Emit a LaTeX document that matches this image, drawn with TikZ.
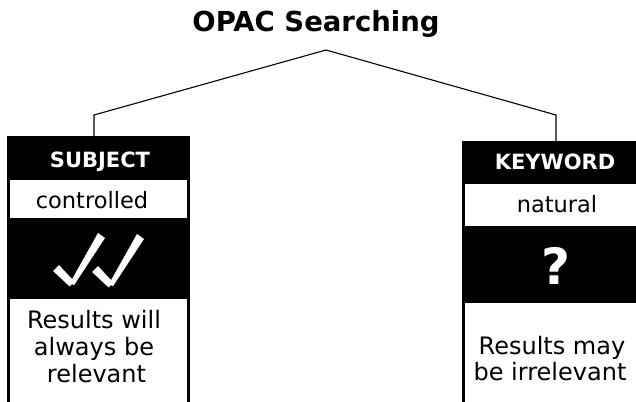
\documentclass[tikz,border=0pt]{standalone}
\usepackage{fontspec}
\setmainfont{DejaVu Sans}
\begin{document}
\begin{tikzpicture}[x=1pt,y=-1pt,
  panel/.style={rectangle, fill=black, draw=none, inner sep=0pt, outer sep=0pt, anchor=north west},
  blank/.style={rectangle, fill=white, draw=none, inner sep=0pt, outer sep=0pt, anchor=north west},
  head/.style={text=white, font=\fontsize{21}{24}\bfseries\selectfont, anchor=base, inner sep=0pt},
  word/.style={text=black, font=\fontsize{22.5}{24}\selectfont, anchor=base, inner sep=0pt},
  note/.style={text=black, font=\fontsize{24}{26}\selectfont, anchor=base, inner sep=0pt},
  link/.style={draw=black, line width=1.1pt, line join=miter},
  tick/.style={fill=white, draw=none}
]
\useasboundingbox (0,0) rectangle (636,401);
\clip (0,0) rectangle (636,401);

% title
\node[anchor=base, inner sep=0pt, font=\fontsize{27.5}{30}\bfseries\selectfont] (title) at (316,32) {OPAC Searching};

% left column: SUBJECT
\node[panel, minimum width=183pt, minimum height=280pt] (subj) at (7,136) {};
\node[blank, minimum width=177pt, minimum height=38pt] (subjrow) at (10,180) {};
\node[blank, minimum width=177pt, minimum height=110pt] (subjres) at (10,299) {};
\node[head] (subjlbl) at (100,167) {SUBJECT};
\node[word] (subjword) at (92,208) {controlled};
\node[note] (subjl1) at (94,328) {Results will};
\node[note] (subjl2) at (94,355) {always be};
\node[note] (subjl3) at (96.5,382) {relevant};

% two brush ticks: a short thick stroke and a long stroke widening upward
\foreach \vx/\vy in {72/284, 111/285} {
  \begin{scope}[shift={(\vx,\vy)}]
    \fill[tick] (-13,-19) -- (2.4,-2.4) -- (-2.4,2.4) -- (-19,-13) -- cycle;
    \fill[tick] (-2,-1.2) -- (2,1.2) -- (33,-46) -- (26,-51) -- cycle;
  \end{scope}
}

% right column: KEYWORD
\node[panel, minimum width=190pt, minimum height=275pt] (kw) at (462,141) {};
\node[blank, minimum width=184pt, minimum height=42pt] (kwrow) at (465,184) {};
\node[blank, minimum width=184pt, minimum height=110pt] (kwres) at (465,302.5) {};
\node[head] (kwlbl) at (555,169) {KEYWORD};
\node[word] (kwword) at (557,212) {natural};
\node[anchor=base, inner sep=0pt, text=white, font=\fontsize{50}{56}\bfseries\selectfont] (kwmark) at (556,284) {?};
\node[note] (kwl1) at (552,354) {Results may};
\node[note] (kwl2) at (550,380) {be irrelevant};

% connectors from the title's apex
\coordinate (apex) at (326,50);
\coordinate (lknee) at (94,115);
\coordinate (rknee) at (556,115);
\draw[link] (subj.north -| lknee) -- (lknee) -- (apex) -- (rknee) -- (kw.north -| rknee);
\end{tikzpicture}
\end{document}
